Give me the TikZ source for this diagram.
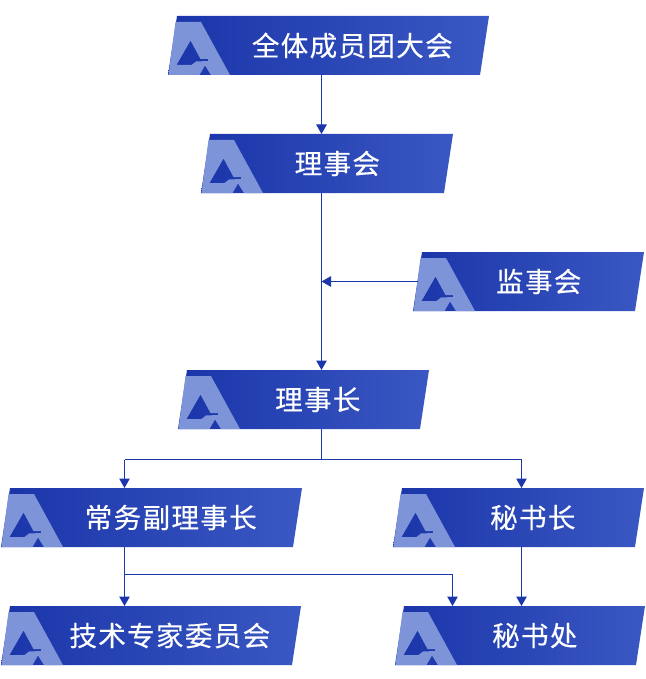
\documentclass[tikz,border=0pt]{standalone}
\usepackage{fontspec}
\setmainfont{Noto Sans CJK SC}[FakeBold = 0.35, LetterSpace = 5]
\usetikzlibrary{arrows.meta}
\definecolor{linkblue}{HTML}{1B37AB}
\definecolor{boxleft}{HTML}{1A35A9}
\definecolor{boxright}{HTML}{3A58C3}
\definecolor{logoblue}{HTML}{7D94D8}
\tikzset{
  linkline/.style = {draw = linkblue, line width = 1pt},
  linkarrow/.style = {linkline, -{Triangle[length = 9.5pt, width = 10.5pt]}},
  boxname/.style = {text = white, font = \fontsize{27.5}{27.5}\selectfont},
  boxanchor/.style = {minimum width = #1, minimum height = 59pt, inner sep = 0pt, outer sep = 0pt}
}

\begin{document}
\begin{tikzpicture}[x = 1pt, y = -1pt]
      \useasboundingbox (0, 0) rectangle (645, 679);
      \foreach \boxid/\xl/\yt/\bw/\xt/\boxlabel in {
        general/168/16/321/352.3/全体成员团大会,
        council/201/134/252/337.3/理事会,
        super/413/252/231/538.8/监事会,
        chair/178/370/251/317.8/理事长,
        deputy/1/488/301/170.8/常务副理事长,
        secgen/393/488/251/532.8/秘书长,
        expert/1/606/300/169.8/技术专家委员会,
        office/395/606/250/534.8/秘书处}{
        \begin{scope}[shift = {(\xl, \yt)}]
          \shade [left color = boxleft, right color = boxright]
            (9, 0) -- (\bw, 0) -- (\bw - 9, 59) -- (0, 59) -- cycle;
          \fill [logoblue, even odd rule]
            (0.5, 59) -- (7.5, 6) -- (33, 6) -- (62, 59) -- (43, 59) -- (37, 49.5) -- (31.5, 59) -- cycle
            (8.5, 49) -- (22.5, 24.5) -- (32.5, 43) -- (40, 43) -- (40, 45) -- (28, 45.5) -- (23.5, 49) -- cycle;
          \node [boxanchor = \bw pt] (\boxid) at (\bw / 2, 29.5) {};
        \end{scope}
        \node [boxname] (\boxid-text) at (\xt, \yt + 29.5) {\boxlabel};
      }
      \coordinate (trunk) at (321.5, 281.5);
      \coordinate (deputyline) at (124.5, 574.5);
      \coordinate (secline) at (521.5, 459.5);
      \coordinate (officeline) at (452.5, 574.5);
      \draw [linkarrow] (trunk |- general.south) -- (trunk |- council.north);
      \draw [linkarrow] (trunk |- council.south) -- (trunk |- chair.north);
      \draw [linkarrow] (super.west |- trunk) ++(5, 0) -- (trunk);
      \draw [linkline] (trunk |- chair.south) -- (trunk |- secline);
      \draw [linkarrow] (deputyline |- secline) -- (secline) -- (secline |- secgen.north);
      \draw [linkarrow] (deputyline |- secline) -- (deputyline |- deputy.north);
      \draw [linkarrow] (deputyline |- deputy.south) -- (deputyline |- expert.north);
      \draw [linkarrow] (deputyline) -- (officeline) -- (officeline |- office.north);
      \draw [linkarrow] (secline |- secgen.south) -- (secline |- office.north);
    \end{tikzpicture}
\end{document}
